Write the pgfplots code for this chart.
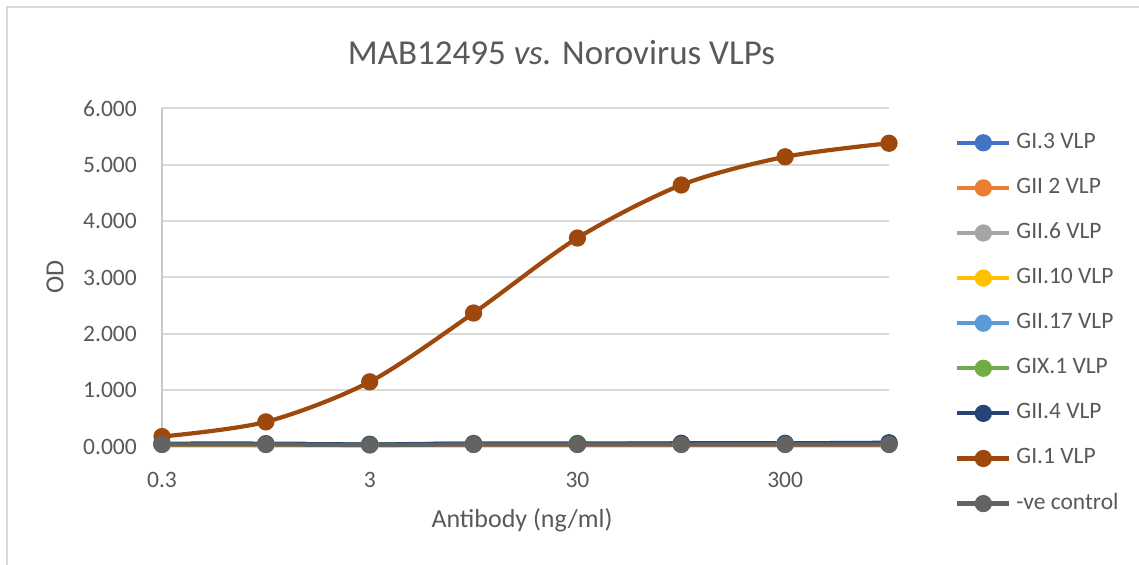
\documentclass[border=0pt]{standalone}
\usepackage{pgfplots}
\pgfplotsset{compat=1.18}
\usepackage{fontspec}
\setmainfont{Carlito}
\definecolor{txt}{HTML}{595959}
\definecolor{gridc}{HTML}{D9D9D9}
\definecolor{axc}{HTML}{C8C8C8}
\definecolor{cA}{HTML}{4472C4}
\definecolor{cB}{HTML}{ED7D31}
\definecolor{cC}{HTML}{A5A5A5}
\definecolor{cD}{HTML}{FFC000}
\definecolor{cE}{HTML}{5B9BD5}
\definecolor{cF}{HTML}{70AD47}
\definecolor{cG}{HTML}{264478}
\definecolor{cH}{HTML}{9E480E}
\definecolor{cI}{HTML}{636363}
\newcommand\fs[1]{\fontsize{#1}{#1}\selectfont}
\pgfplotstableread{
x   a     b     c     d     e     f     g     h     i
0   0.05  0.04  0.05  0.04  0.05  0.05  0.05  0.18  0.04
1   0.05  0.04  0.04  0.04  0.05  0.05  0.05  0.44  0.04
2   0.04  0.04  0.04  0.04  0.04  0.04  0.04  1.15  0.03
3   0.05  0.04  0.05  0.05  0.05  0.06  0.05  2.37  0.04
4   0.05  0.04  0.05  0.05  0.05  0.06  0.05  3.70  0.04
5   0.05  0.04  0.05  0.05  0.05  0.05  0.06  4.64  0.04
6   0.05  0.04  0.05  0.05  0.05  0.05  0.06  5.14  0.04
7   0.06  0.04  0.05  0.05  0.05  0.05  0.07  5.38  0.04
}\data
\begin{document}
\begin{tikzpicture}[x=1bp,y=1bp]
\useasboundingbox (0,0) rectangle (1139,565);
\fill[white] (0,0) rectangle (1139,565);
\draw[gridc, line width=2bp] (7,-5) -- (7,558) -- (1145,558);
\begin{axis}[
  at={(162bp,118.3bp)}, anchor=south west, scale only axis,
  width=727bp, height=338.4bp,
  xmin=0, xmax=7, ymin=0, ymax=6,
  clip=false,
  xtick={0,2,4,6}, xticklabels={0.3,3,30,300},
  ytick={0,1,2,3,4,5,6},
  yticklabels={0.000,1.000,2.000,3.000,4.000,5.000,6.000},
  major tick length=0pt,
  ymajorgrids, grid style={gridc, line width=2bp},
  axis x line=bottom, axis y line=left,
  axis line style={-},
  x axis line style={draw=gridc, line width=2bp},
  y axis line style={draw=axc, line width=2bp},
  ticklabel style={font=\fs{23.5bp}, text=txt},
  yticklabel style={inner sep=0pt, anchor=east, xshift=-25bp},
  xticklabel style={inner sep=0pt, anchor=north, yshift=-25bp},
  every axis plot/.append style={line width=4.2bp, smooth, tension=0.5, mark=*, mark size=6.5bp, mark options={solid}},
  legend cell align=left,
  legend style={at={(1.0908,0.365)}, anchor=west, draw=none, fill=none,
    inner sep=0pt, font=\fs{23.5bp}, text=txt, row sep=24.1bp, column sep=5bp,
    nodes={inner sep=0pt, text height=16bp, text depth=5bp}},
  legend image code/.code={
    \draw[#1, mark=none, smooth=false] (0bp,0bp) -- (52bp,0bp);
    \draw[#1, only marks] plot coordinates {(26bp,0bp)};
  },
]
\addplot[color=cA] table[x=x,y=a]{\data};
\addlegendentry{GI.3 VLP}
\addplot[color=cB] table[x=x,y=b]{\data};
\addlegendentry{GII 2 VLP}
\addplot[color=cC] table[x=x,y=c]{\data};
\addlegendentry{GII.6 VLP}
\addplot[color=cD] table[x=x,y=d]{\data};
\addlegendentry{GII.10 VLP}
\addplot[color=cE] table[x=x,y=e]{\data};
\addlegendentry{GII.17 VLP}
\addplot[color=cF] table[x=x,y=f]{\data};
\addlegendentry{GIX.1 VLP}
\addplot[color=cG] table[x=x,y=g]{\data};
\addlegendentry{GII.4 VLP}
\addplot[color=cH] table[x=x,y=h]{\data};
\addlegendentry{GI.1 VLP}
\addplot[color=cI] table[x=x,y=i]{\data};
\addlegendentry{-ve control}
\end{axis}
\node[text=txt, font=\fs{35bp}] at (561.5,512) {MAB12495 \textit{vs.} Norovirus VLPs};
\node[text=txt, font=\fs{26bp}] at (522,45) {Antibody (ng/ml)};
\node[text=txt, font=\fs{26bp}, rotate=90] at (55,288) {OD};
\end{tikzpicture}
\end{document}
